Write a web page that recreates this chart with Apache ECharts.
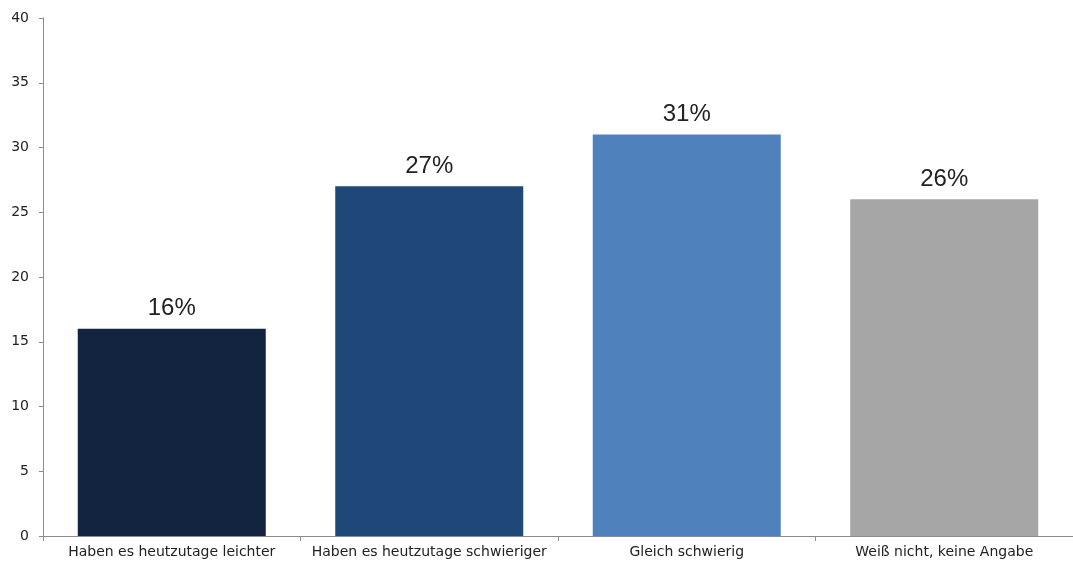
<!DOCTYPE html>
<html lang="de">
<head>
<meta charset="UTF-8">
<title>Balkendiagramm</title>
<script src="https://cdn.jsdelivr.net/npm/echarts@6.0.0/dist/echarts.min.js"></script>
<style>
  html, body { margin: 0; padding: 0; background: #fff; overflow: hidden; }
  #chart { width: 1073px; height: 566px; }
</style>
</head>
<body>
<div id="chart"></div>
<script>
// Daten
const categories = ['Haben es heutzutage leichter', 'Haben es heutzutage schwieriger', 'Gleich schwierig', 'Weiß nicht, keine Angabe'];
const values = [16, 27, 31, 26];
const barColors = ['#12233f', '#1f4778', '#4f81bd', '#a6a6a6'];

const chart = echarts.init(document.getElementById('chart'));
chart.setOption({
    animation: false,
    // die x-Achse läuft im Original rechts über den Bildrand hinaus
    grid: { left: 43, width: 1040, top: 18, bottom: 30 },
    xAxis: {
        type: 'category',
        data: categories,
        axisLine: { lineStyle: { color: '#8c8c8c', width: 1 } },
        axisTick: { show: true, interval: 0, length: 5, lineStyle: { color: '#8c8c8c' } },
        axisLabel: { interval: 0, color: '#222', fontSize: 14, fontFamily: 'DejaVu Sans', margin: 9 }
    },
    yAxis: {
        type: 'value',
        min: 0, max: 40, interval: 5,
        axisLine: { show: true, lineStyle: { color: '#8c8c8c', width: 1 } },
        axisTick: { show: true, length: 4, lineStyle: { color: '#8c8c8c' } },
        splitLine: { show: false },
        axisLabel: { color: '#222', fontSize: 14, fontFamily: 'DejaVu Sans', margin: 14 }
    },
    series: [{
        type: 'bar',
        data: values.map((v, i) => ({ value: v, itemStyle: { color: barColors[i] } })),
        barWidth: 188,
        label: {
            show: true,
            position: 'top',
            distance: 8,
            formatter: p => p.value + '%',
            color: '#222',
            fontSize: 24,
            fontFamily: 'Liberation Sans, Arial'
        }
    }]
});
</script>
</body>
</html>
